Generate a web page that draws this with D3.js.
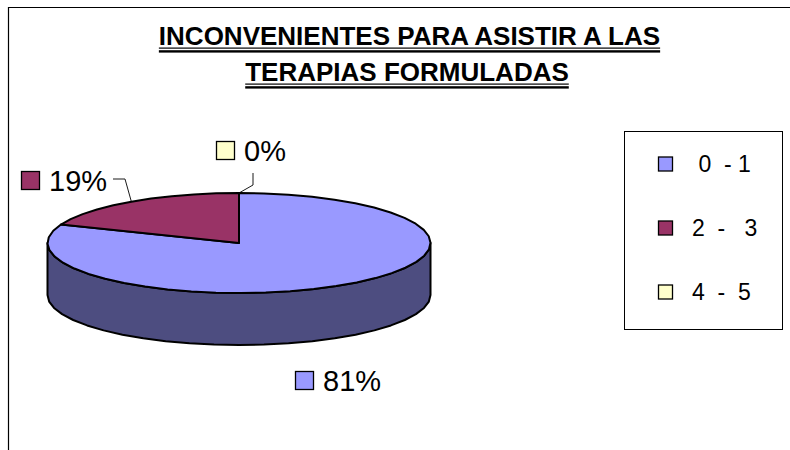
<!DOCTYPE html>
<html><head><meta charset="utf-8">
<script src="https://cdn.jsdelivr.net/npm/d3@7"></script>
<style>html,body{margin:0;background:#fff}svg{display:block}text{font-family:"Liberation Sans",Arial,sans-serif;fill:#000}</style>
</head><body><svg id="c" width="790" height="450"></svg>
<script>
const titleLines = ["INCONVENIENTES PARA ASISTIR A LAS", "TERAPIAS FORMULADAS"];
const titleCenters = [409.5, 407];
const categories = ["0 - 1", "2 -  3", "4 - 5"];
const legendLabels = ["\u00a00  - 1", "2  -   3", "4  -  5"];
const values = [81, 19, 0];
const percentLabels = ["81%", "19%", "0%"];
const colors = ["#9999ff", "#993366", "#ffffcc"];
const sideColor = "#4d4d80";

const svg = d3.select("#c");
// frame
svg.append("path").attr("d", "M8.5 450V7.5H790").attr("fill", "none").attr("stroke", "#000").attr("stroke-width", 1.2);

// title
titleLines.forEach((t, i) => {
  const y = 45 + i * 36;
  const xc = titleCenters[i];
  const tx = svg.append("text").attr("x", xc).attr("y", y).attr("text-anchor", "middle")
    .attr("font-size", 26).attr("font-weight", 700).text(t);
  const w = tx.node().getComputedTextLength();
  svg.append("rect").attr("x", xc - w / 2).attr("y", y + 2.5).attr("width", w).attr("height", 1.2).attr("fill", "#000");
  svg.append("rect").attr("x", xc - w / 2).attr("y", y + 5.2).attr("width", w).attr("height", 2.4).attr("fill", "#000");
});

// pie projected from unit circle to an ellipse
const cx = 239, cy = 243, rx = 191.5, ry = 50, depth = 52;
const px = d3.scaleLinear().domain([-1, 1]).range([cx - rx, cx + rx]);
const py = d3.scaleLinear().domain([-1, 1]).range([cy - ry, cy + ry]);
const pie = d3.pie().sort(null).value(d => d);
const arcs = pie(values);
const pt = a => [px(Math.sin(a)), py(-Math.cos(a))];
const line = d3.line();
const step = Math.PI / 24; // the outline of the reference is visibly polygonal

const front = d3.range(Math.PI / 2, 3 * Math.PI / 2 + 1e-6, step);
const sidePts = front.map(pt).concat(front.slice().reverse().map(a => { const p = pt(a); return [p[0], p[1] + depth]; }));
svg.append("path").attr("d", line(sidePts) + "Z").attr("fill", sideColor).attr("stroke", "#000").attr("stroke-width", 2).attr("stroke-linejoin", "round");

arcs.forEach((d, i) => {
  if (d.endAngle - d.startAngle < 1e-6) return;
  const n = Math.ceil((d.endAngle - d.startAngle) / step);
  const pts = d3.range(n + 1).map(k => pt(d.startAngle + (d.endAngle - d.startAngle) * k / n));
  svg.append("path").attr("d", line([[px(0), py(0)], ...pts]) + "Z")
    .attr("fill", colors[i]).attr("stroke", "#000").attr("stroke-width", 2).attr("stroke-linejoin", "round");
});

// leader lines
const mid0 = (arcs[1].startAngle + arcs[1].endAngle) / 2;
const a19 = pt(mid0), a0 = pt(arcs[2].startAngle);
svg.append("path").attr("d", line([[113, 179], [125, 179], [a19[0], a19[1]]])).attr("fill", "none").attr("stroke", "#000").attr("stroke-width", 0.9);
svg.append("path").attr("d", line([[253, 173], [253, 185], [a0[0], a0[1]]])).attr("fill", "none").attr("stroke", "#000").attr("stroke-width", 0.9);

// data labels
const labelPos = [[295, 371, 323, 391], [21, 171, 49, 191], [216, 141, 244, 161]];
percentLabels.forEach((t, i) => {
  const p = labelPos[i];
  svg.append("rect").attr("x", p[0] + .5).attr("y", p[1] + .5).attr("width", 18).attr("height", 18)
    .attr("fill", colors[i]).attr("stroke", "#000").attr("stroke-width", 1.3);
  svg.append("text").attr("x", p[2]).attr("y", p[3]).attr("font-size", 29).text(t);
});

// legend
svg.append("rect").attr("x", 624.5).attr("y", 131.5).attr("width", 158).attr("height", 198).attr("fill", "#fff").attr("stroke", "#000").attr("stroke-width", 1);
const legY = d3.scalePoint().domain(categories).range([164, 292]);
categories.forEach((c, i) => {
  const y = legY(c);
  svg.append("rect").attr("x", 658.5).attr("y", y - 7).attr("width", 14).attr("height", 14)
    .attr("fill", colors[i]).attr("stroke", "#000").attr("stroke-width", 1.3);
  svg.append("text").attr("x", 692).attr("y", y + 8).attr("font-size", 23).style("white-space", "pre").text(legendLabels[i]);
});
</script></body></html>
